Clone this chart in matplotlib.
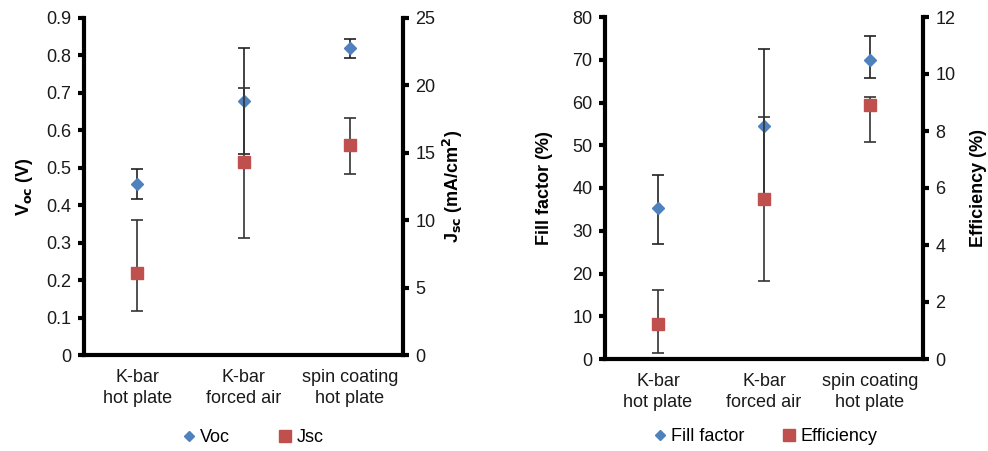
import numpy as np
import matplotlib.pyplot as plt

plt.rcParams["font.family"] = ["Liberation Sans", "DejaVu Sans"]
plt.rcParams["font.size"] = 13

categories = ["K-bar\nhot plate", "K-bar\nforced air", "spin coating\nhot plate"]

voc = [0.458, 0.679, 0.820]
voc_err_lo = [0.041, 0.142, 0.027]
voc_err_hi = [0.040, 0.141, 0.025]

jsc = [6.1, 14.3, 15.55]
jsc_err_lo = [2.8, 5.64, 2.1]
jsc_err_hi = [3.9, 5.48, 2.0]

ff = [35.4, 54.6, 69.9]
ff_err_lo = [8.6, 17.9, 4.2]
ff_err_hi = [7.7, 17.8, 5.7]

eff = [1.22, 5.62, 8.90]
eff_err_lo = [1.0, 2.87, 1.30]
eff_err_hi = [1.2, 2.88, 0.28]

BLUE = "#4F81BD"
RED = "#C0504D"
TXT = "#1a1a1a"


def style_axis(ax, right=False):
    for side in ["left", "right", "bottom"]:
        ax.spines[side].set_linewidth(3)
    ax.spines["top"].set_visible(False)
    if right:
        ax.spines["left"].set_visible(False)
        ax.spines["bottom"].set_visible(False)
    else:
        ax.spines["right"].set_visible(False)
    ax.tick_params(axis="y", direction="out", length=4, width=3, colors="black",
                   labelcolor=TXT, labelsize=13, pad=5)
    ax.tick_params(axis="x", length=0, labelsize=13, labelcolor=TXT, pad=10)


def draw_panel(fig, rect, y1, e1lo, e1hi, y2, e2lo, e2hi, lim1, ticks1, lim2, ticks2,
               lab1, lab2, leg1, leg2, fmt1, lab1pad, lab2pad, leg_xy, colsp):
    x = np.arange(len(categories))
    ax = fig.add_axes(rect)
    ax2 = ax.twinx()
    ax.errorbar(x, y1, yerr=[e1lo, e1hi], fmt="D", color=BLUE, ms=6, mec=BLUE,
                ecolor="#222222", elinewidth=1.2, capsize=4, capthick=1.2, zorder=3)
    ax2.errorbar(x, y2, yerr=[e2lo, e2hi], fmt="s", color=RED, ms=8, mec=RED,
                 ecolor="#333333", elinewidth=1.2, capsize=4, capthick=1.2, zorder=3)
    ax.set_xlim(-0.5, 2.5)
    ax.set_ylim(*lim1)
    ax.set_yticks(ticks1)
    ax.set_yticklabels([fmt1(t) for t in ticks1])
    ax2.set_ylim(*lim2)
    ax2.set_yticks(ticks2)
    ax.set_xticks(x)
    ax.set_xticklabels(categories, linespacing=1.3)
    style_axis(ax)
    style_axis(ax2, right=True)
    ax.set_ylabel(lab1, fontweight="bold", labelpad=lab1pad, color="black")
    ax2.set_ylabel(lab2, fontweight="bold", labelpad=lab2pad, color="black")
    h1 = ax.plot([], [], "D", color=BLUE, ms=5, label=leg1)[0]
    h2 = ax.plot([], [], "s", color=RED, ms=8, label=leg2)[0]
    ax.legend(handles=[h1, h2], loc="center", bbox_to_anchor=leg_xy,
              ncol=2, frameon=False, fontsize=13, handletextpad=0.1,
              columnspacing=colsp, handlelength=1.0)
    return ax, ax2


fig = plt.figure(figsize=(9.88, 4.51), dpi=100)
W, H = 988, 451

draw_panel(fig, [84 / W, 1 - 355 / H, (403 - 84) / W, (355 - 18) / H],
           voc, voc_err_lo, voc_err_hi, jsc, jsc_err_lo, jsc_err_hi,
           (0, 0.9), np.arange(0, 0.91, 0.1), (0, 25), np.arange(0, 26, 5),
           r"V$_\mathbf{oc}$ (V)", r"J$_\mathbf{sc}$ (mA/cm$^\mathbf{2}$)",
           "Voc", "Jsc", lambda t: "0" if t == 0 else f"{t:.1f}", 8, 4,
           (0.525, -0.245), 2.6)

draw_panel(fig, [605 / W, 1 - 359 / H, (923 - 605) / W, (359 - 17) / H],
           ff, ff_err_lo, ff_err_hi, eff, eff_err_lo, eff_err_hi,
           (0, 80), np.arange(0, 81, 10), (0, 12), np.arange(0, 13, 2),
           "Fill factor (%)", "Efficiency (%)",
           "Fill factor", "Efficiency", lambda t: f"{t:.0f}", 14, 10,
           (0.5, -0.228), 2.0)

fig.savefig("out.png", dpi=100)
